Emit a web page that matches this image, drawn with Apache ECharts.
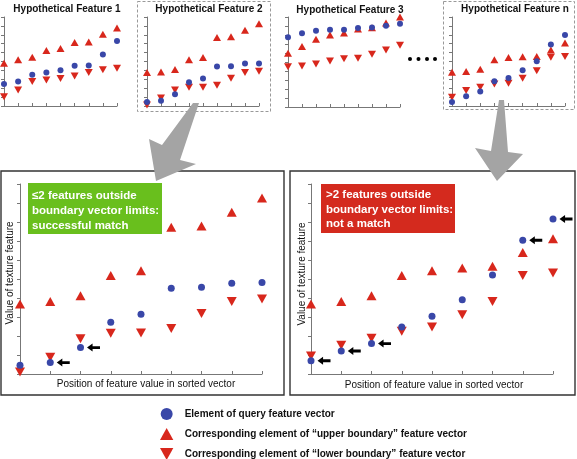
<!DOCTYPE html>
<html><head><meta charset="utf-8">
<script src="https://cdn.jsdelivr.net/npm/echarts@6/dist/echarts.min.js"></script>
<style>html,body{margin:0;padding:0;background:#fff}#c{width:577px;height:459px}</style>
</head><body><div id="c"></div>
<script>
// positions in sorted vector
var positions = [0,1,2,3,4,5,6,7,8];
var titles = ['Hypothetical Feature 1','Hypothetical Feature 2','Hypothetical Feature 3','Hypothetical Feature n'];
var legendNames = ['Element of query feature vector','Corresponding element of \u201cupper boundary\u201d feature vector','Corresponding element of \u201clower boundary\u201d feature vector'];

// Feature 1
var f1Query = [2.48,2.74,3.5,3.76,4.02,4.51,4.55,5.79,7.29];
var f1Upper = [4.81,5.19,5.49,6.24,6.47,7.14,7.18,8.05,8.76];
var f1Lower = [1.05,1.8,2.74,2.93,3.08,3.38,3.76,4.06,4.25];
// Feature 2
var f2Query = [0.45,0.6,1.32,2.67,3.08,4.44,4.47,4.77,4.77];
var f2Upper = [3.76,3.83,4.1,5.19,5.45,7.7,7.78,8.5,9.25];
var f2Lower = [0.11,0.9,1.8,2.1,2.1,2.33,3.12,3.76,3.91];
// Feature 3
var f3Query = [7.76,8.2,8.47,8.58,8.58,8.77,8.84,9.03,9.25];
var f3Upper = [5.97,6.72,7.54,7.99,8.21,8.66,8.8,9.33,10.0];
var f3Lower = [4.48,4.55,4.78,5.11,5.37,5.41,5.86,6.34,6.87];
// Feature n
var fnQuery = [0.45,1.09,1.62,2.78,3.16,4.02,5.04,6.92,7.97];
var fnUpper = [3.8,3.87,4.14,5.19,5.45,5.53,5.56,6.28,7.07];
var fnLower = [0.98,1.73,2.1,2.48,2.56,3.12,3.95,5.49,5.56];
// Enlarged: matched (feature 2)
var mQuery = [0.46,0.6,1.39,2.72,3.14,4.51,4.56,4.77,4.82];
var mUpper = [3.68,3.82,4.12,5.18,5.44,7.72,7.79,8.51,9.26];
var mLower = [0.1,0.88,1.86,2.14,2.16,2.39,3.19,3.82,3.95];
var mOutside = [1,2];
// Enlarged: not matched (feature n)
var nQuery = [0.70,1.21,1.6,2.47,3.04,3.91,5.21,7.04,8.16];
var nUpper = [3.68,3.82,4.12,5.18,5.44,5.58,5.67,6.39,7.12];
var nLower = [0.95,1.51,1.88,2.25,2.47,3.12,3.82,5.18,5.32];
var nOutside = [0,1,2,7,8];

var BLUE = '#3947a8', RED = '#d8271c', FONT = '"Liberation Sans", Arial, sans-serif';
var DOWN = 'path://M0,0 L10,0 L5,9 Z';
var UP = 'path://M5,0 L10,9 L0,9 Z';
var ARROW = 'path://M0,5 L6,0 L6,3.2 L14,3.2 L14,6.8 L6,6.8 L6,10 Z';

function pts(arr){ return positions.map(function(p,i){ return [p, arr[i]]; }); }

var panels = [
  {grid:{left:4,top:17,width:113,height:89}, q:f1Query,u:f1Upper,l:f1Lower, big:false},
  {grid:{left:147,top:17,width:112,height:89}, q:f2Query,u:f2Upper,l:f2Lower, big:false},
  {grid:{left:288,top:17,width:112,height:90}, q:f3Query,u:f3Upper,l:f3Lower, big:false},
  {grid:{left:452,top:17,width:113,height:89}, q:fnQuery,u:fnUpper,l:fnLower, big:false},
  {grid:{left:20,top:184,width:242,height:190}, q:mQuery,u:mUpper,l:mLower, big:true, out:mOutside},
  {grid:{left:311,top:184,width:242,height:190}, q:nQuery,u:nUpper,l:nLower, big:true, out:nOutside}
];

var grids=[], xAxes=[], yAxes=[], series=[];
panels.forEach(function(p, k){
  grids.push(p.grid);
  xAxes.push({gridIndex:k, type:'value', min:0, max:8, interval:1,
    axisLine:{lineStyle:{color:'#777',width:1}}, axisTick:{inside:true,length:3,lineStyle:{color:'#777'}},
    axisLabel:{show:false}, splitLine:{show:false}});
  yAxes.push({gridIndex:k, type:'value', min:0, max:10, interval:1,
    axisLine:{show:true,lineStyle:{color:'#777',width:1}}, axisTick:{show:true,length:3,lineStyle:{color:'#777'}},
    axisLabel:{show:false}, splitLine:{show:false}});
  var cs = p.big ? 7 : 6, ts = p.big ? [10,9] : [8,7];
  series.push({name:legendNames[1], type:'scatter', xAxisIndex:k, yAxisIndex:k, symbol:UP, symbolSize:ts,
    itemStyle:{color:RED, opacity:1}, data:pts(p.u), silent:true});
  series.push({name:legendNames[2], type:'scatter', xAxisIndex:k, yAxisIndex:k, symbol:DOWN, symbolSize:ts,
    itemStyle:{color:RED, opacity:1}, data:pts(p.l), silent:true});
  series.push({name:legendNames[0], type:'scatter', xAxisIndex:k, yAxisIndex:k, symbol:'circle', symbolSize:cs,
    itemStyle:{color:BLUE, opacity:1}, data:pts(p.q), silent:true});
  if (p.out){
    series.push({name:'outside', type:'scatter', xAxisIndex:k, yAxisIndex:k, symbol:ARROW, symbolSize:[13,8],
      symbolOffset:[13,0], itemStyle:{color:'#000', opacity:1}, silent:true,
      data:p.out.map(function(i){ return [positions[i], p.q[i]]; })});
  }
});

var graphic = [];
// small titles
[[67,9],[209,9],[350,10],[515,9]].forEach(function(c,i){
  graphic.push({type:'text', x:c[0], y:c[1], style:{text:titles[i], font:'bold 10px '+FONT, fill:'#111', textAlign:'center', textVerticalAlign:'middle'}});
});
// dashed highlight boxes
graphic.push({type:'rect', shape:{x:137.5,y:1.5,width:133,height:110}, style:{fill:null, stroke:'#999', lineWidth:1, lineDash:[3,2]}});
graphic.push({type:'rect', shape:{x:443.5,y:1.5,width:131,height:108}, style:{fill:null, stroke:'#999', lineWidth:1, lineDash:[3,2]}});
// ellipsis dots
[410,418.5,427,435].forEach(function(x){
  graphic.push({type:'circle', shape:{cx:x, cy:59, r:2}, style:{fill:'#000'}});
});
// panel frames
graphic.push({type:'rect', shape:{x:1,y:171,width:283,height:224}, style:{fill:null, stroke:'#333', lineWidth:1.4}});
graphic.push({type:'rect', shape:{x:290,y:171,width:285,height:224}, style:{fill:null, stroke:'#333', lineWidth:1.4}});
// big gray arrows
graphic.push({type:'polygon', z:10, shape:{points:[[193,103],[199,103],[180,160],[196,164],[156,181],[149,139],[162,145]]}, style:{fill:'#a4a4a4'}});
graphic.push({type:'polygon', z:10, shape:{points:[[499,100],[504,100],[508,152],[523,154],[497,181],[475,148],[491,151]]}, style:{fill:'#a4a4a4'}});
// verdict boxes
graphic.push({type:'rect', shape:{x:28,y:183,width:134,height:51}, style:{fill:'#69bf1d'}});
graphic.push({type:'text', x:32, y:188, style:{text:'\u22642 features outside\nboundary vector limits:\nsuccessful match', font:'bold 11.5px '+FONT, fill:'#fff', lineHeight:15}});
graphic.push({type:'rect', shape:{x:321,y:184,width:134,height:49}, style:{fill:'#d42a1e'}});
graphic.push({type:'text', x:326, y:188, style:{text:'>2 features outside\nboundary vector limits:\nnot a match', font:'bold 11.5px '+FONT, fill:'#fff', lineHeight:14.5}});
// axis titles
[[10,273],[302,274]].forEach(function(c){
  graphic.push({type:'text', x:c[0], y:c[1], rotation:Math.PI/2, style:{text:'Value of texture feature', font:'10px '+FONT, fill:'#111', textAlign:'center', textVerticalAlign:'middle'}});
});
[[146,384],[434,385]].forEach(function(c){
  graphic.push({type:'text', x:c[0], y:c[1], style:{text:'Position of feature value in sorted vector', font:'10px '+FONT, fill:'#111', textAlign:'center', textVerticalAlign:'middle'}});
});

var chart = echarts.init(document.getElementById('c'), null, {renderer:'canvas'});
chart.setOption({
  animation:false,
  grid:grids, xAxis:xAxes, yAxis:yAxes, series:series, graphic:graphic,
  legend:{orient:'vertical', left:155, top:403, height:80, itemGap:8, itemWidth:14, itemHeight:12,
    textStyle:{fontFamily:FONT, fontWeight:'bold', fontSize:10, color:'#111', padding:[0,0,0,6]},
    selectedMode:false,
    data:[{name:legendNames[0], icon:'circle'},{name:legendNames[1], icon:UP},{name:legendNames[2], icon:DOWN}]}
});
</script></body></html>
